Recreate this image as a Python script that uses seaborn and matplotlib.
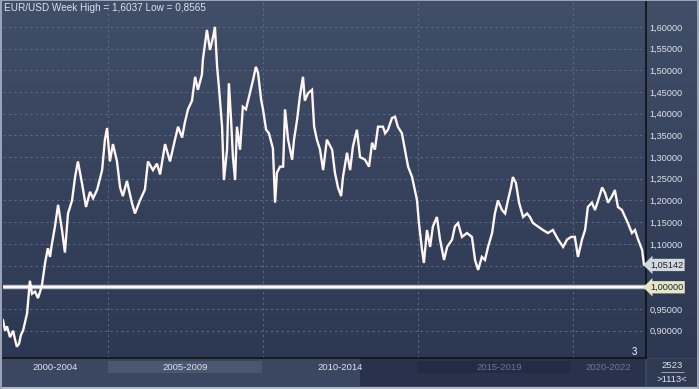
"""EUR/USD weekly chart, dark terminal look"""
import seaborn as sns
import matplotlib.pyplot as plt
import matplotlib.patches as mpatches
import matplotlib.transforms as mtrans
from matplotlib.colors import LinearSegmentedColormap
import numpy as np
import pandas as pd

TOP, BOTTOM = '#414e67', '#2b3650'
TXT, GRID, EDGE = '#dfe3ea', '#5d6a83', '#0e121a'

years = [2001.61, 2001.68, 2001.74, 2001.84, 2001.94, 2002.00, 2002.06, 2002.13, 2002.19, 2002.26,
         2002.39, 2002.48, 2002.55, 2002.65, 2002.74, 2002.81, 2002.87, 2002.97, 2003.06, 2003.13,
         2003.19, 2003.29, 2003.39, 2003.52, 2003.61, 2003.71, 2003.84, 2003.94, 2004.03, 2004.16,
         2004.29, 2004.42, 2004.52, 2004.65, 2004.81, 2004.90, 2004.97, 2005.06, 2005.16, 2005.29,
         2005.39, 2005.48, 2005.61, 2005.77, 2005.87, 2006.03, 2006.19, 2006.29, 2006.45, 2006.58,
         2006.68, 2006.84, 2007.00, 2007.16, 2007.26, 2007.39, 2007.48, 2007.58, 2007.71, 2007.81,
         2007.90, 2008.03, 2008.06, 2008.19, 2008.29, 2008.39, 2008.45, 2008.52, 2008.58, 2008.68,
         2008.74, 2008.84, 2008.90, 2008.97, 2009.03, 2009.10, 2009.16, 2009.26, 2009.35, 2009.45,
         2009.55, 2009.68, 2009.77, 2009.84, 2009.94, 2010.00, 2010.10, 2010.19, 2010.32, 2010.39,
         2010.45, 2010.55, 2010.65, 2010.71, 2010.81, 2010.94, 2011.00, 2011.10, 2011.19, 2011.29,
         2011.35, 2011.45, 2011.58, 2011.65, 2011.74, 2011.84, 2011.94, 2012.06, 2012.23, 2012.32,
         2012.42, 2012.52, 2012.58, 2012.71, 2012.81, 2012.90, 2013.03, 2013.13, 2013.29, 2013.42,
         2013.52, 2013.61, 2013.71, 2013.87, 2013.94, 2014.03, 2014.16, 2014.26, 2014.35, 2014.48,
         2014.58, 2014.68, 2014.81, 2014.90, 2014.97, 2015.03, 2015.13, 2015.19, 2015.29, 2015.39,
         2015.48, 2015.61, 2015.71, 2015.84, 2015.94, 2016.10, 2016.19, 2016.29, 2016.42, 2016.58,
         2016.74, 2016.84, 2016.94, 2017.06, 2017.16, 2017.26, 2017.39, 2017.48, 2017.58, 2017.71,
         2017.81, 2017.90, 2018.00, 2018.06, 2018.16, 2018.26, 2018.39, 2018.52, 2018.61, 2018.71,
         2018.87, 2019.03, 2019.19, 2019.35, 2019.52, 2019.68, 2019.81, 2019.94, 2020.06, 2020.16,
         2020.29, 2020.39, 2020.48, 2020.61, 2020.71, 2020.81, 2020.94, 2021.03, 2021.13, 2021.26,
         2021.35, 2021.45, 2021.58, 2021.68, 2021.77, 2021.90, 2022.00, 2022.10, 2022.23, 2022.29]

rate = [0.925, 0.900, 0.910, 0.885, 0.900, 0.880, 0.863, 0.870, 0.890, 0.900,
        0.940, 1.015, 0.985, 0.990, 0.975, 0.990, 1.005, 1.056, 1.090, 1.070,
        1.100, 1.140, 1.190, 1.130, 1.080, 1.170, 1.200, 1.255, 1.290, 1.240,
        1.185, 1.220, 1.205, 1.225, 1.270, 1.340, 1.367, 1.290, 1.330, 1.290,
        1.230, 1.210, 1.245, 1.195, 1.170, 1.200, 1.225, 1.290, 1.270, 1.285,
        1.260, 1.330, 1.290, 1.340, 1.370, 1.345, 1.380, 1.410, 1.430, 1.485,
        1.455, 1.490, 1.524, 1.593, 1.547, 1.577, 1.600, 1.508, 1.460, 1.370,
        1.247, 1.317, 1.470, 1.386, 1.300, 1.247, 1.370, 1.317, 1.416, 1.410,
        1.440, 1.478, 1.508, 1.494, 1.432, 1.410, 1.363, 1.355, 1.320, 1.195,
        1.264, 1.278, 1.278, 1.410, 1.340, 1.294, 1.340, 1.386, 1.440, 1.485,
        1.430, 1.447, 1.455, 1.370, 1.340, 1.317, 1.270, 1.340, 1.317, 1.264,
        1.230, 1.210, 1.254, 1.310, 1.270, 1.324, 1.363, 1.300, 1.294, 1.278,
        1.333, 1.317, 1.370, 1.370, 1.355, 1.363, 1.390, 1.393, 1.370, 1.355,
        1.317, 1.278, 1.254, 1.224, 1.200, 1.148, 1.086, 1.056, 1.132, 1.093,
        1.140, 1.162, 1.110, 1.063, 1.093, 1.110, 1.140, 1.148, 1.116, 1.125,
        1.116, 1.063, 1.040, 1.070, 1.063, 1.093, 1.125, 1.170, 1.200, 1.178,
        1.170, 1.200, 1.230, 1.254, 1.240, 1.195, 1.162, 1.170, 1.162, 1.148,
        1.140, 1.132, 1.125, 1.132, 1.110, 1.093, 1.110, 1.116, 1.116, 1.070,
        1.110, 1.132, 1.185, 1.195, 1.178, 1.200, 1.230, 1.218, 1.195, 1.210,
        1.224, 1.185, 1.178, 1.162, 1.148, 1.125, 1.132, 1.110, 1.086, 1.05142]

ticks = [0.90, 0.95, 1.00, 1.05, 1.10, 1.15, 1.20, 1.25, 1.30, 1.35, 1.40, 1.45, 1.50, 1.55, 1.60]
year_grid = [2005, 2010, 2015, 2020]
periods = ['2000-2004', '2005-2009', '2010-2014', '2015-2019', '2020-2022']
last_value = 1.05142
parity = 1.0

df = pd.DataFrame({'Year': years, 'Rate': rate})

sns.set_theme(style='dark', rc={'axes.unicode_minus': False})
plt.rcParams['font.family'] = ['Liberation Sans', 'DejaVu Sans']

W, H = 699, 389
fig = plt.figure(figsize=(W / 100, H / 100), dpi=100)


def fx(x): return x / W
def fy(y): return 1 - y / H


# gradient background over whole figure
bg = fig.add_axes([0, 0, 1, 1], zorder=0)
cmap = LinearSegmentedColormap.from_list('g', [TOP, BOTTOM])
bg.imshow(np.linspace(0, 1, 256).reshape(-1, 1), aspect='auto', cmap=cmap,
          extent=[0, 1, 0, 1], origin='upper')
bg.set_xlim(0, 1); bg.set_ylim(0, 1); bg.axis('off')

# time bar at the bottom
def rect(x0, y0, x1, y1, c, z=1):
    fig.patches.append(mpatches.Rectangle((fx(x0), fy(y1)), fx(x1 - x0), (y1 - y0) / H,
                                          transform=fig.transFigure, color=c, zorder=z, lw=0))

rect(0, 358, W, H, '#3b4761')
rect(108, 361, 262, 373, '#4a5770', 2)
rect(360, 359, 645, 386, '#28334b', 2)
rect(417, 361, 571, 373, '#222c43', 3)
rect(647, 359, W, 386, '#2f3a53', 2)
rect(0, 387, W, H, '#b3bbc9', 4)
rect(0, 0, 2, H, '#9aa4b6', 4)
rect(W - 2, 0, W, H, '#9aa4b6', 4)
rect(0, 0, W, 1, '#9aa4b6', 4)

ax = fig.add_axes([fx(3), fy(358), fx(643), 358 / H], zorder=2)
ax.patch.set_alpha(0)
sns.lineplot(data=df, x='Year', y='Rate', ax=ax, color='#fff6f4', lw=1.7, zorder=4)
ax.lines[0].set_solid_joinstyle('miter')
ax.axhline(parity, color='#b9bec8', lw=3.2, zorder=3)
ax.axhline(parity, color='white', lw=1.3, zorder=3)

ax.set_xlim(2001.613, 2022.355)
ax.set_ylim(0.837, 1.662)
ax.set_yticks(ticks)
# labels at 1,00 and 1,05 are covered by the price markers
ax.set_yticklabels(['' if t in (1.00, 1.05) else f'{t:.5f}'.replace('.', ',') for t in ticks])
ax.yaxis.tick_right()
ax.tick_params(axis='y', length=0, pad=2.5, labelsize=6.6, labelcolor=TXT)
ax.set_xticks(year_grid)
ax.set_xticklabels([])
ax.tick_params(axis='x', length=0)
ax.grid(True, color=GRID, lw=0.7, ls=(0, (2.5, 3)))
ax.set_xlabel(''); ax.set_ylabel('')
for s in ['top', 'left']:
    ax.spines[s].set_visible(False)
for s in ['right', 'bottom']:
    ax.spines[s].set_color(EDGE); ax.spines[s].set_linewidth(1.2)

# price markers on the right scale
tr = mtrans.blended_transform_factory(ax.transAxes, ax.transData)
ax.text(1.006, last_value, f'{last_value:.5f}'.replace('.', ','), transform=tr, ha='left',
        va='center', fontsize=6.6, color='#1e2430', clip_on=False, zorder=6,
        bbox=dict(boxstyle='larrow,pad=0.18', fc='#d3d7de', ec='none'))
ax.text(1.006, parity, '1,00000', transform=tr, ha='left', va='center', fontsize=6.6,
        color='#1e2430', clip_on=False, zorder=6,
        bbox=dict(boxstyle='larrow,pad=0.18', fc='#e6e6c4', ec='none'))

fig.text(fx(4), fy(8), 'EUR/USD Week High = 1,6037 Low = 0,8565', ha='left', va='center',
         fontsize=7.2, color=TXT, zorder=5)
fig.text(fx(634), fy(352), '3', ha='center', va='center', fontsize=7, color='white', zorder=5)

centers = [55, 185, 340, 499, 608]
cols = [TXT, TXT, TXT, '#6c7891', '#6c7891']
for c, lab, col in zip(centers, periods, cols):
    fig.text(fx(c), fy(367), lab, ha='center', va='center', fontsize=6.8, color=col, zorder=6)

fig.text(fx(672), fy(366), '2523', ha='center', va='center', fontsize=6.8, color=TXT, zorder=6)
fig.lines.append(plt.Line2D([fx(661), fx(684)], [fy(372), fy(372)], transform=fig.transFigure,
                            color='#aab2c0', lw=0.6, zorder=6))
fig.text(fx(672), fy(379), '>1113<', ha='center', va='center', fontsize=6.8, color=TXT, zorder=6)

plt.savefig('out.png', dpi=100)
